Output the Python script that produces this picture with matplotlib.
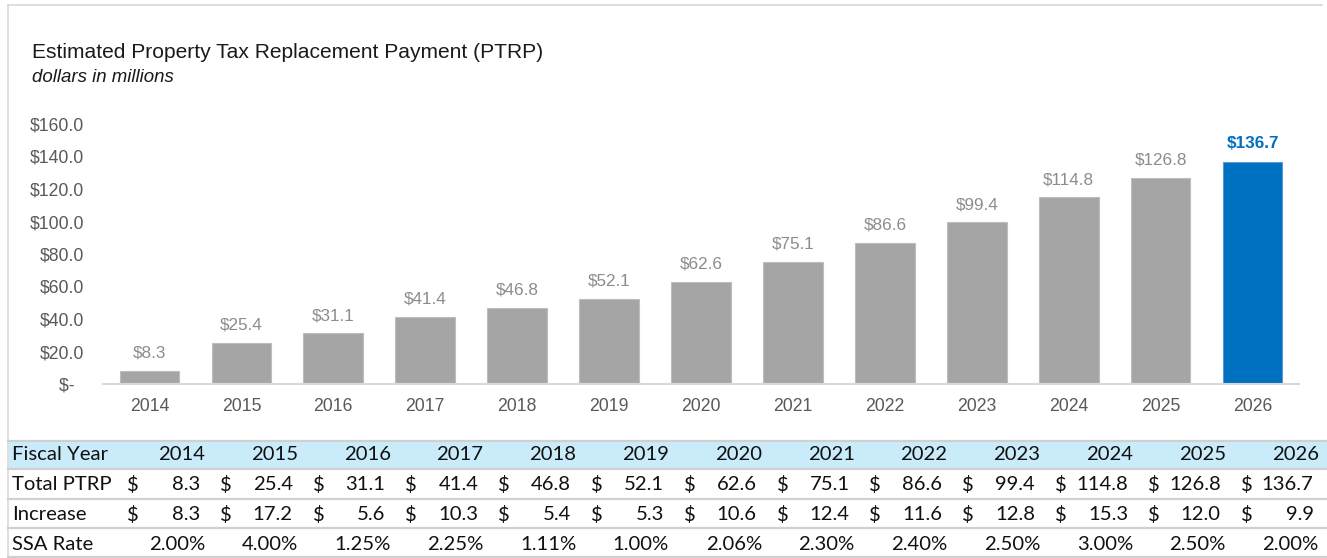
import matplotlib
matplotlib.use("Agg")
from matplotlib import pyplot as plt
from matplotlib.patches import Rectangle
from matplotlib.lines import Line2D

# chart data, dollars in millions
years = [2014, 2015, 2016, 2017, 2018, 2019, 2020, 2021, 2022, 2023, 2024, 2025, 2026]
total_ptrp = [8.3, 25.4, 31.1, 41.4, 46.8, 52.1, 62.6, 75.1, 86.6, 99.4, 114.8, 126.8, 136.7]
increase = [8.3, 17.2, 5.6, 10.3, 5.4, 5.3, 10.6, 12.4, 11.6, 12.8, 15.3, 12.0, 9.9]
ssa_rate = [2.00, 4.00, 1.25, 2.25, 1.11, 1.00, 2.06, 2.30, 2.40, 2.50, 3.00, 2.50, 2.00]
y_ticks = [0, 20, 40, 60, 80, 100, 120, 140, 160]

W, H = 1327, 558
GREY_BAR = "#A5A5A5"
BLUE = "#0070C0"
AXIS_TEXT = "#595959"
LABEL_TEXT = "#8C8C8C"
FRAME = "#D9D9D9"


def fx(px):
    return px / W


def fy(py):
    return 1 - py / H


fig = plt.figure(figsize=(W / 100, H / 100), dpi=100)
plt.rcParams["font.family"] = ["Liberation Sans", "DejaVu Sans"]

# outer frame of the chart panel
fig.add_artist(Line2D([fx(8), fx(1322)], [fy(5), fy(5)], color=FRAME, lw=1.2))
fig.add_artist(Line2D([fx(8), fx(8)], [fy(5), fy(557)], color=FRAME, lw=1.2))

fig.text(fx(32), fy(53), "Estimated Property Tax Replacement Payment (PTRP)",
         fontsize=15.1, color="#1a1a1a", va="center", ha="left")
fig.text(fx(32), fy(77), "dollars in millions", fontsize=13.4, style="italic",
         color="#1a1a1a", va="center", ha="left")

# bar chart
left, right, top, bottom = 103.5, 1298.5, 124, 384
ax = fig.add_axes([fx(left), fy(bottom), fx(right - left), (bottom - top) / H])
positions = list(range(len(years)))
colors = [GREY_BAR] * (len(years) - 1) + [BLUE]
bars = ax.bar(positions, total_ptrp, width=0.65, color=colors,
              edgecolor=["#BDBDBD"] * (len(years) - 1) + ["#5B9BD5"], linewidth=0.8)
for i, (bar, val) in enumerate(zip(bars, total_ptrp)):
    last = i == len(years) - 1
    ax.annotate(f"${val:.1f}", (bar.get_x() + bar.get_width() / 2, val),
                xytext=(0, 7.5), textcoords="offset points", ha="center", va="bottom",
                fontsize=12.3, color=BLUE if last else LABEL_TEXT,
                fontweight="bold" if last else "normal")

ax.set_xlim(-0.5, len(years) - 0.5)
ax.set_ylim(0, 160)
ax.set_xticks(positions)
ax.set_xticklabels([str(y) for y in years])
ax.set_yticks(y_ticks)
ax.set_yticklabels(["$-  " if v == 0 else f"${v:.1f}" for v in y_ticks])
ax.tick_params(axis="both", length=0, colors=AXIS_TEXT, labelsize=12.7)
ax.tick_params(axis="y", pad=14)
ax.tick_params(axis="x", pad=10)
for side in ["top", "right", "left"]:
    ax.spines[side].set_visible(False)
ax.spines["bottom"].set_color(FRAME)
ax.spines["bottom"].set_linewidth(1.5)

# data table below the chart
fig.add_artist(Rectangle((fx(9), fy(469)), fx(W - 9), (469 - 442) / H,
                         facecolor="#CAECFA", edgecolor="none"))
for y in [441, 469, 499, 528, 557]:
    fig.add_artist(Line2D([fx(8), 1], [fy(y), fy(y)], color="#D0D0D0", lw=1.6))

TFONT = ["Lato", "DejaVu Sans"]
TSIZE = 14.6
TCOLOR = "#111111"
row_y = [455, 485, 515, 544]
row_names = ["Fiscal Year", "Total PTRP", "Increase", "SSA Rate"]
for name, y in zip(row_names, row_y):
    fig.text(fx(12), fy(y), name, family=TFONT, fontsize=TSIZE, color=TCOLOR,
             ha="left", va="center")

col_right0, col_step = 205, 92.8
for i, yr in enumerate(years):
    r = col_right0 + col_step * i
    dollar_x = r - 78
    fig.text(fx(r), fy(row_y[0]), str(yr), family=TFONT, fontsize=TSIZE,
             color=TCOLOR, ha="right", va="center")
    for vals, y in [(total_ptrp, row_y[1]), (increase, row_y[2])]:
        fig.text(fx(dollar_x), fy(y), "$", family=TFONT, fontsize=TSIZE,
                 color=TCOLOR, ha="left", va="center")
        fig.text(fx(r - 5), fy(y), f"{vals[i]:.1f}", family=TFONT, fontsize=TSIZE,
                 color=TCOLOR, ha="right", va="center")
    fig.text(fx(r), fy(row_y[3]), f"{ssa_rate[i]:.2f}%", family=TFONT,
             fontsize=TSIZE, color=TCOLOR, ha="right", va="center")

fig.savefig("out.png", dpi=100)
